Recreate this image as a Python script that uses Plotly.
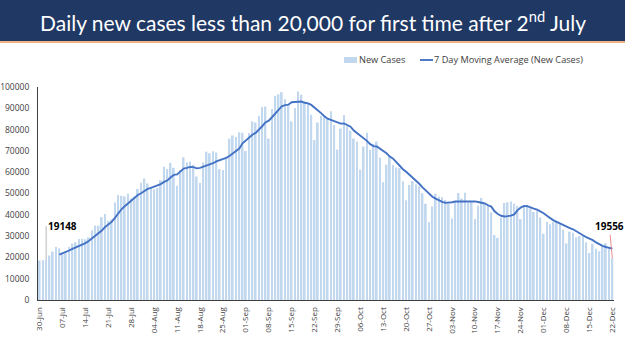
import pandas as pd
import plotly.graph_objects as go

# ---- data (daily new cases, 30-Jun to 22-Dec) ----
start_date = "2020-06-30"
new_cases = [
    18522, 18653, 19148, 20903, 22771, 24850, 24248, 22252, 22752, 24879,
    26506, 27114, 28637, 28701, 28498, 29429, 32695, 34956, 34884, 38902,
    40425, 37148, 37724, 45720, 49310, 48916, 48661, 49931, 47703, 48513,
    52123, 55079, 57118, 54735, 52972, 52050, 52509, 56282, 62538, 61537,
    64399, 62064, 53601, 60963, 66999, 64553, 65002, 63490, 57981, 55079,
    64531, 69652, 68898, 69878, 69239, 61408, 60975, 67151, 75760, 77266,
    76472, 78761, 78512, 69921, 78357, 83883, 83341, 86432, 90632, 90802,
    75809, 89706, 95735, 96551, 97570, 94372, 92071, 83809, 90123, 97894,
    96424, 93337, 92605, 86961, 75083, 83347, 86508, 86052, 85362, 88600,
    82170, 70589, 80472, 86821, 81484, 79476, 75829, 74442, 61267, 72049,
    78524, 70496, 73272, 74383, 66732, 55342, 63509, 67708, 63371, 62212,
    61871, 55722, 46790, 54044, 55839, 54366, 53370, 50129, 45148, 36470,
    43893, 49881, 48648, 48268, 46963, 45231, 38310, 46253, 50210, 47638,
    50357, 45674, 45903, 38073, 44281, 47905, 44878, 44684, 41100, 30548,
    29163, 38617, 45576, 45882, 46232, 45209, 44059, 37975, 44376, 44489,
    43082, 41322, 41810, 38772, 31118, 36604, 35551, 36594, 36652, 36011,
    32981, 26567, 32080, 31522, 29398, 30006, 30254, 27071, 22065, 26382,
    24010, 22890, 25152, 26624, 24337, 19556,
]
tick_labels = ["30-Jun", "07-Jul", "14-Jul", "21-Jul", "28-Jul", "04-Aug", "11-Aug",
               "18-Aug", "25-Aug", "01-Sep", "08-Sep", "15-Sep", "22-Sep", "29-Sep",
               "06-Oct", "13-Oct", "20-Oct", "27-Oct", "03-Nov", "10-Nov", "17-Nov",
               "24-Nov", "01-Dec", "08-Dec", "15-Dec", "22-Dec"]
y_ticks = [0, 10000, 20000, 30000, 40000, 50000, 60000, 70000, 80000, 90000, 100000]
title_text = "Daily new cases less than 20,000 for first time after 2<sup>nd</sup> July"
series_names = ["New Cases", "7 Day Moving Average (New Cases)"]
label_first = "19148"
label_last = "19556"

dates = pd.date_range(start_date, periods=len(new_cases), freq="D")
cats = [d.strftime("%d-%b") for d in dates]
moving_avg = pd.Series(new_cases).rolling(7).mean()

BAR_COLOR = "#C2D8EF"
LINE_COLOR = "#4472C4"
TXT = "#404040"

W, H = 625, 351
L, R, T, B = 38, 11, 87, 51
PW, PH = W - L - R, H - T - B


def px_x(x):
    return (x - L) / PW


def px_y(y):
    return (H - B - y) / PH


fig = go.Figure()
fig.add_trace(go.Bar(x=cats, y=new_cases, name=series_names[0], showlegend=False,
                     marker=dict(color=BAR_COLOR, line=dict(width=0))))
fig.add_trace(go.Scatter(x=cats, y=moving_avg, name=series_names[1], showlegend=False,
                         mode="lines", line=dict(color=LINE_COLOR, width=1.9)))

fig.update_layout(
    width=W, height=H,
    margin=dict(l=L, r=R, t=T, b=B, autoexpand=False),
    paper_bgcolor="white", plot_bgcolor="white",
    bargap=0.45,
    showlegend=False,
    font=dict(family="Open Sans", size=8, color=TXT),
)
fig.update_xaxes(
    type="category", range=[-0.5, len(cats) - 0.5], automargin=False,
    tickmode="array", tickvals=tick_labels, ticktext=tick_labels,
    tickangle=-90, tickfont=dict(size=8, color=TXT), ticklabelstandoff=3,
    showline=True, linecolor=TXT, linewidth=1, ticks="", showgrid=False,
)
fig.update_yaxes(
    range=[0, 100000], tickmode="array", tickvals=y_ticks, automargin=False,
    ticktext=[str(v) for v in y_ticks], tickfont=dict(size=8.5, color=TXT),
    ticklabelstandoff=6,
    showline=True, linecolor=TXT, linewidth=1, ticks="", showgrid=False,
    zeroline=False,
)

# Title banner
fig.add_shape(type="rect", xref="paper", yref="paper",
              x0=px_x(0), x1=px_x(W), y0=px_y(41), y1=px_y(0),
              fillcolor="#1F3864", line=dict(width=0), layer="below")
fig.add_shape(type="rect", xref="paper", yref="paper",
              x0=px_x(0), x1=px_x(W), y0=px_y(43), y1=px_y(41),
              fillcolor="#F4B183", line=dict(width=0), layer="below")
fig.add_annotation(text=title_text, xref="paper", yref="paper",
                   x=px_x(W / 2), y=px_y(21), xanchor="center", yanchor="middle",
                   showarrow=False, font=dict(family="Lato", size=21, color="white"))

# Legend (drawn manually for exact placement)
fig.add_shape(type="rect", xref="paper", yref="paper",
              x0=px_x(344), x1=px_x(357), y0=px_y(63), y1=px_y(57),
              fillcolor=BAR_COLOR, line=dict(width=0))
fig.add_annotation(text=series_names[0], xref="paper", yref="paper",
                   x=px_x(357), y=px_y(60), xanchor="left", yanchor="middle",
                   showarrow=False, font=dict(family="Open Sans", size=9.2, color=TXT))
fig.add_shape(type="line", xref="paper", yref="paper",
              x0=px_x(420), x1=px_x(433), y0=px_y(60), y1=px_y(60),
              line=dict(color=LINE_COLOR, width=1.9))
fig.add_annotation(text=series_names[1], xref="paper", yref="paper",
                   x=px_x(432), y=px_y(60), xanchor="left", yanchor="middle",
                   showarrow=False, font=dict(family="Open Sans", size=9.2, color=TXT))

# Data labels
fig.add_annotation(x=cats[2], y=new_cases[2], text="<b>" + label_first + "</b>",
                   showarrow=True, arrowhead=0, arrowwidth=0.8, arrowcolor="#A6A6A6",
                   ax=0, ay=-33, xanchor="left", yanchor="middle",
                   font=dict(family="Open Sans", size=10, color="black"))
fig.add_annotation(x=cats[-1], y=new_cases[-1], text="<b>" + label_last + "</b>",
                   showarrow=True, arrowhead=0, arrowwidth=0.8, arrowcolor="#E07070",
                   ax=-3, ay=-32, xanchor="center", yanchor="middle",
                   font=dict(family="Open Sans", size=10, color="black"))

fig.write_html("out.html")
